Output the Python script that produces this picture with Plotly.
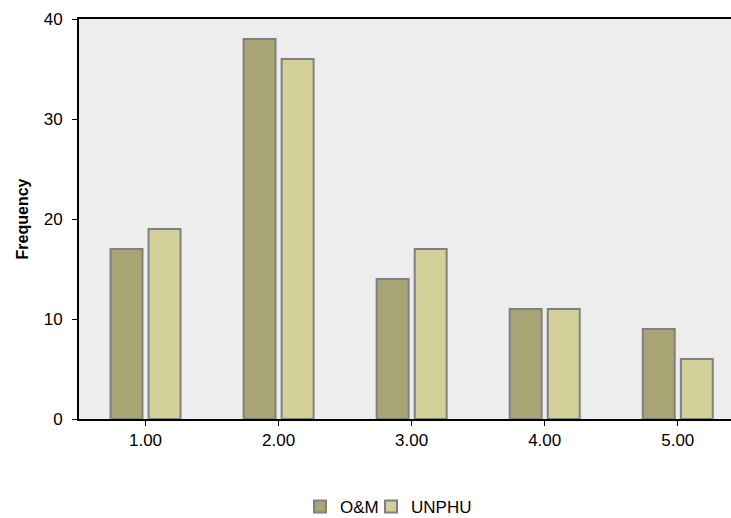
import plotly.graph_objects as go

categories = [1, 2, 3, 4, 5]
tick_labels = ["1.00", "2.00", "3.00", "4.00", "5.00"]
om_values = [17, 38, 14, 11, 9]
unphu_values = [19, 36, 17, 11, 6]

fig = go.Figure()
fig.add_trace(go.Bar(
    x=categories, y=om_values, name="O&M",
    width=0.24, offset=-0.263, legend="legend",
    marker=dict(color="#A8A474", line=dict(color="#808080", width=2)),
))
fig.add_trace(go.Bar(
    x=categories, y=unphu_values, name="UNPHU",
    width=0.24, offset=0.023, legend="legend2",
    marker=dict(color="#D4D09A", line=dict(color="#808080", width=2)),
))

legend_common = dict(
    orientation="h", xref="container", yref="container",
    xanchor="left", y=(518 - 507) / 518, yanchor="middle",
    font=dict(size=17), itemwidth=30, bgcolor="rgba(0,0,0,0)",
)

fig.update_layout(
    width=731, height=518,
    margin=dict(l=79, r=0, t=19, b=99),
    paper_bgcolor="white",
    plot_bgcolor="#EDEDED",
    font=dict(family="Liberation Sans, Arial, sans-serif", size=17, color="black"),
    barmode="overlay",
    showlegend=True,
    legend=dict(x=300 / 731, **legend_common),
    legend2=dict(x=371 / 731, **legend_common),
    xaxis=dict(
        range=[0.5, 5.4], tickvals=categories, ticktext=tick_labels,
        showline=True, linecolor="black", linewidth=2, mirror=True,
        ticks="outside", ticklen=5, tickcolor="black", showgrid=False, zeroline=False,
    ),
    yaxis=dict(
        range=[0, 40], dtick=10,
        showline=True, linecolor="black", linewidth=2,
        ticks="outside", ticklen=5, tickcolor="black", showgrid=False, zeroline=False,
        ticklabelstandoff=6,
        title=dict(text="<b>Frequency</b>", font=dict(size=16), standoff=11),
    ),
)

fig.write_html("out.html", config={"displayModeBar": False})

with open("out.html", "r", encoding="utf-8") as f:
    html = f.read()
html = html.replace("<head>", "<head><style>html,body{margin:0;padding:0;overflow:hidden;}</style>", 1)
with open("out.html", "w", encoding="utf-8") as f:
    f.write(html)
